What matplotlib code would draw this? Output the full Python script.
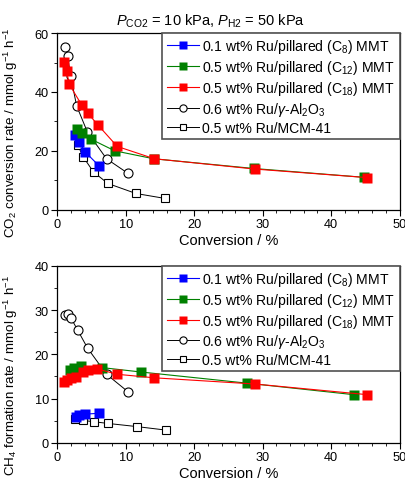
import matplotlib
matplotlib.use('Agg')
import matplotlib.pyplot as plt
from matplotlib.ticker import MultipleLocator

plt.rcParams['font.family'] = ['Liberation Sans', 'DejaVu Sans']
plt.rcParams['mathtext.fontset'] = 'custom'
plt.rcParams['mathtext.rm'] = 'Liberation Sans'
plt.rcParams['mathtext.it'] = 'Liberation Sans:italic'
plt.rcParams['mathtext.bf'] = 'Liberation Sans:bold'

labels = [
    "0.1 wt% Ru/pillared (C$_8$) MMT",
    "0.5 wt% Ru/pillared (C$_{12}$) MMT",
    "0.5 wt% Ru/pillared (C$_{18}$) MMT",
    "0.6 wt% Ru/$\\gamma$-Al$_2$O$_3$",
    "0.5 wt% Ru/MCM-41",
]

# CO2 conversion rate vs conversion
c8_x = [2.63, 3.17, 4.1, 6.1]
c8_co2 = [25.4, 23.0, 19.6, 14.9]
c12_x = [2.88, 3.6, 4.9, 8.4, 14.1, 28.7, 44.8]
c12_co2 = [27.5, 26.2, 24.0, 20.0, 17.3, 14.0, 11.0]
c18_x = [0.98, 1.37, 1.75, 3.6, 4.5, 5.9, 8.76, 14.2, 28.9, 45.3]
c18_co2 = [50.3, 47.2, 42.6, 35.5, 32.7, 28.9, 21.5, 17.3, 13.8, 10.9]
al_x = [1.12, 1.5, 1.95, 2.83, 4.4, 7.2, 10.3]
al_co2 = [55.4, 52.3, 45.5, 35.3, 26.4, 17.3, 12.4]
mcm_x = [2.97, 3.8, 5.3, 7.4, 11.5, 15.8]
mcm_co2 = [22.1, 17.9, 12.8, 8.9, 5.5, 3.8]

# CH4 formation rate vs conversion
c8_x2 = [2.68, 3.2, 4.0, 6.1]
c8_ch4 = [5.9, 6.2, 6.5, 6.7]
c12_x2 = [1.85, 2.4, 3.5, 6.6, 12.3, 27.7, 43.3]
c12_ch4 = [16.5, 17.0, 17.3, 17.0, 16.0, 13.5, 10.9]
c18_x2 = [0.98, 1.46, 1.95, 2.73, 3.7, 4.5, 5.85, 8.76, 14.2, 28.9, 45.3]
c18_ch4 = [13.7, 14.2, 14.6, 14.9, 16.1, 16.4, 16.7, 15.5, 14.7, 13.3, 10.9]
al_x2 = [1.12, 1.5, 2.0, 2.97, 4.43, 7.2, 10.3]
al_ch4 = [28.8, 29.2, 28.2, 25.5, 21.4, 15.5, 11.6]
mcm_x2 = [2.63, 3.7, 5.3, 7.45, 11.6, 15.9]
mcm_ch4 = [5.4, 5.1, 4.8, 4.4, 3.7, 2.9]

fig = plt.figure(figsize=(4.06, 4.81), dpi=100)
ax1 = fig.add_axes([0.141, 0.562, 0.843, 0.367])
ax2 = fig.add_axes([0.141, 0.077, 0.843, 0.3685])


def draw(ax, series):
    colors = ['#0000ff', '#008000', '#ff0000']
    (cx8, cy8), (cx12, cy12), (cx18, cy18), (ax_, ay_), (mx, my) = series
    h4, = ax.plot(ax_, ay_, '-o', color='black', lw=0.7, ms=6.5, mfc='white', mec='black', mew=0.8)
    h5, = ax.plot(mx, my, '-s', color='black', lw=0.7, ms=6, mfc='white', mec='black', mew=0.8)
    h1, = ax.plot(cx8, cy8, '-s', color=colors[0], lw=0.8, ms=6.5, mec='none')
    h2, = ax.plot(cx12, cy12, '-s', color=colors[1], lw=0.8, ms=6.5, mec='none')
    h3, = ax.plot(cx18, cy18, '-s', color=colors[2], lw=0.8, ms=6.5, mec='none')
    leg = ax.legend([h1, h2, h3, h4, h5], labels, loc='upper right', fontsize=10.1,
                    frameon=True, fancybox=False, framealpha=1, edgecolor='#505050',
                    handlelength=2.3, handletextpad=0.25, borderaxespad=0.0,
                    labelspacing=0.2, borderpad=0.3, markerscale=0.8)
    leg.get_frame().set_linewidth(1.2)
    ax.set_xlim(0, 50)
    ax.xaxis.set_major_locator(MultipleLocator(10))
    ax.xaxis.set_minor_locator(MultipleLocator(2))
    ax.tick_params(which='both', direction='out', labelsize=9.2, top=False, right=False, pad=2)
    ax.tick_params(which='major', length=4)
    ax.tick_params(which='minor', length=2.5)
    ax.set_xlabel('Conversion / %', fontsize=10.5, labelpad=2)
    for s in ax.spines.values():
        s.set_linewidth(0.9)


draw(ax1, [(c8_x, c8_co2), (c12_x, c12_co2), (c18_x, c18_co2), (al_x, al_co2), (mcm_x, mcm_co2)])
ax1.set_ylim(0, 60)
ax1.yaxis.set_major_locator(MultipleLocator(20))
ax1.yaxis.set_minor_locator(MultipleLocator(10))
ax1.set_ylabel('CO$_2$ conversion rate / mmol g$^{-1}$ h$^{-1}$', fontsize=9.6)
ax1.yaxis.set_label_coords(-0.11, 0.44)
ax1.set_title('$P_{\\rm CO2}$ = 10 kPa, $P_{\\rm H2}$ = 50 kPa', fontsize=10.5, pad=6, x=0.449)

draw(ax2, [(c8_x2, c8_ch4), (c12_x2, c12_ch4), (c18_x2, c18_ch4), (al_x2, al_ch4), (mcm_x2, mcm_ch4)])
ax2.set_ylim(0, 40)
ax2.yaxis.set_major_locator(MultipleLocator(10))
ax2.yaxis.set_minor_locator(MultipleLocator(5))
ax2.set_ylabel('CH$_4$ formation rate / mmol g$^{-1}$ h$^{-1}$', fontsize=9.6)
ax2.yaxis.set_label_coords(-0.11, 0.385)

fig.savefig('out.png', dpi=100)
